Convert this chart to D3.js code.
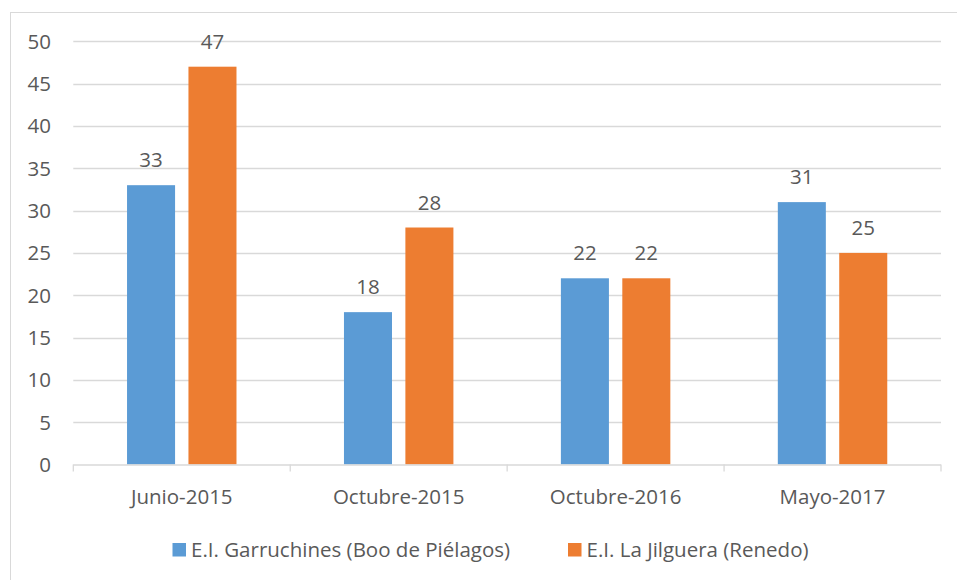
<!DOCTYPE html>
<html>
<head>
<meta charset="utf-8">
<script src="https://cdn.jsdelivr.net/npm/d3@7"></script>
<style>
  body { margin: 0; background: #fff; }
  svg text { font-family: "Open Sans", Lato, sans-serif; fill: #595959; }
</style>
</head>
<body>
<svg></svg>
<script>
const categories = ['Junio-2015', 'Octubre-2015', 'Octubre-2016', 'Mayo-2017'];
const seriesNames = ['E.I. Garruchines (Boo de Piélagos)', 'E.I. La Jilguera (Renedo)'];
const garruchines = [33, 18, 22, 31];
const jilguera = [47, 28, 22, 25];
const yTicks = [0, 5, 10, 15, 20, 25, 30, 35, 40, 45, 50];
const colors = ['#5b9bd5', '#ed7d31'];

const size = {w: 957, h: 580};
const plot = {l: 73.3, r: 941, t: 41.3, b: 464.5};
const fontSize = '20.5px';

const svg = d3.select('svg')
    .attr('width', size.w)
    .attr('height', size.h);

// chart frame
svg.append('rect')
    .attr('x', 10.5).attr('y', 12.5)
    .attr('width', 960).attr('height', 600)
    .attr('fill', 'none')
    .attr('stroke', '#d9d9d9');

const x = d3.scaleBand()
    .domain(categories)
    .range([plot.l, plot.r]);

const xInner = d3.scaleBand()
    .domain(d3.range(seriesNames.length))
    .range([0, x.bandwidth()])
    .paddingInner(0.218)
    .paddingOuter(0.875);

const y = d3.scaleLinear()
    .domain([0, 50])
    .range([plot.b, plot.t]);

// gridlines
svg.append('g')
    .selectAll('line')
    .data(yTicks.filter(d => d > 0))
    .join('line')
    .attr('x1', plot.l).attr('x2', plot.r)
    .attr('y1', d => Math.round(y(d)) + 0.5)
    .attr('y2', d => Math.round(y(d)) + 0.5)
    .attr('stroke', '#d9d9d9')
    .attr('stroke-width', 1.3);

// y labels
svg.append('g')
    .selectAll('text')
    .data(yTicks)
    .join('text')
    .attr('x', 51)
    .attr('y', d => y(d))
    .attr('dy', '0.36em')
    .attr('text-anchor', 'end')
    .style('font-size', fontSize)
    .text(d => d);

const table = categories.map((c, i) => ({cat: c, values: [garruchines[i], jilguera[i]]}));

const groups = svg.append('g')
    .selectAll('g')
    .data(table)
    .join('g')
    .attr('transform', d => `translate(${x(d.cat)},0)`);

groups.selectAll('rect')
    .data(d => d.values.map((v, k) => ({k, v})))
    .join('rect')
    .attr('x', d => xInner(d.k))
    .attr('width', xInner.bandwidth())
    .attr('y', d => y(d.v))
    .attr('height', d => y(0) - y(d.v))
    .attr('fill', d => colors[d.k]);

groups.selectAll('text')
    .data(d => d.values.map((v, k) => ({k, v})))
    .join('text')
    .attr('x', d => xInner(d.k) + xInner.bandwidth() / 2)
    .attr('y', d => y(d.v) - 18)
    .attr('text-anchor', 'middle')
    .style('font-size', fontSize)
    .text(d => d.v);

// x axis
const xAxis = svg.append('g');
xAxis.append('line')
    .attr('x1', plot.l).attr('x2', plot.r)
    .attr('y1', plot.b + 0.5).attr('y2', plot.b + 0.5)
    .attr('stroke', '#d9d9d9')
    .attr('stroke-width', 1.3);
xAxis.selectAll('.tick')
    .data(categories.concat(['end']))
    .join('line')
    .attr('x1', (d, i) => plot.l + i * x.step())
    .attr('x2', (d, i) => plot.l + i * x.step())
    .attr('y1', plot.b).attr('y2', plot.b + 7)
    .attr('stroke', '#d9d9d9')
    .attr('stroke-width', 1.3);
xAxis.selectAll('text')
    .data(categories)
    .join('text')
    .attr('x', d => x(d) + x.bandwidth() / 2)
    .attr('y', 503.5)
    .attr('text-anchor', 'middle')
    .style('font-size', fontSize)
    .text(d => d);

// legend
const legendX = [172.5, 568];
const legend = svg.append('g')
    .selectAll('g')
    .data(seriesNames)
    .join('g')
    .attr('transform', (d, i) => `translate(${legendX[i]},543)`);
legend.append('rect')
    .attr('width', 13.5).attr('height', 13.5)
    .attr('fill', (d, i) => colors[i]);
legend.append('text')
    .attr('x', 18.5)
    .attr('y', 14)
    .style('font-size', fontSize)
    .text(d => d);
</script>
</body>
</html>
